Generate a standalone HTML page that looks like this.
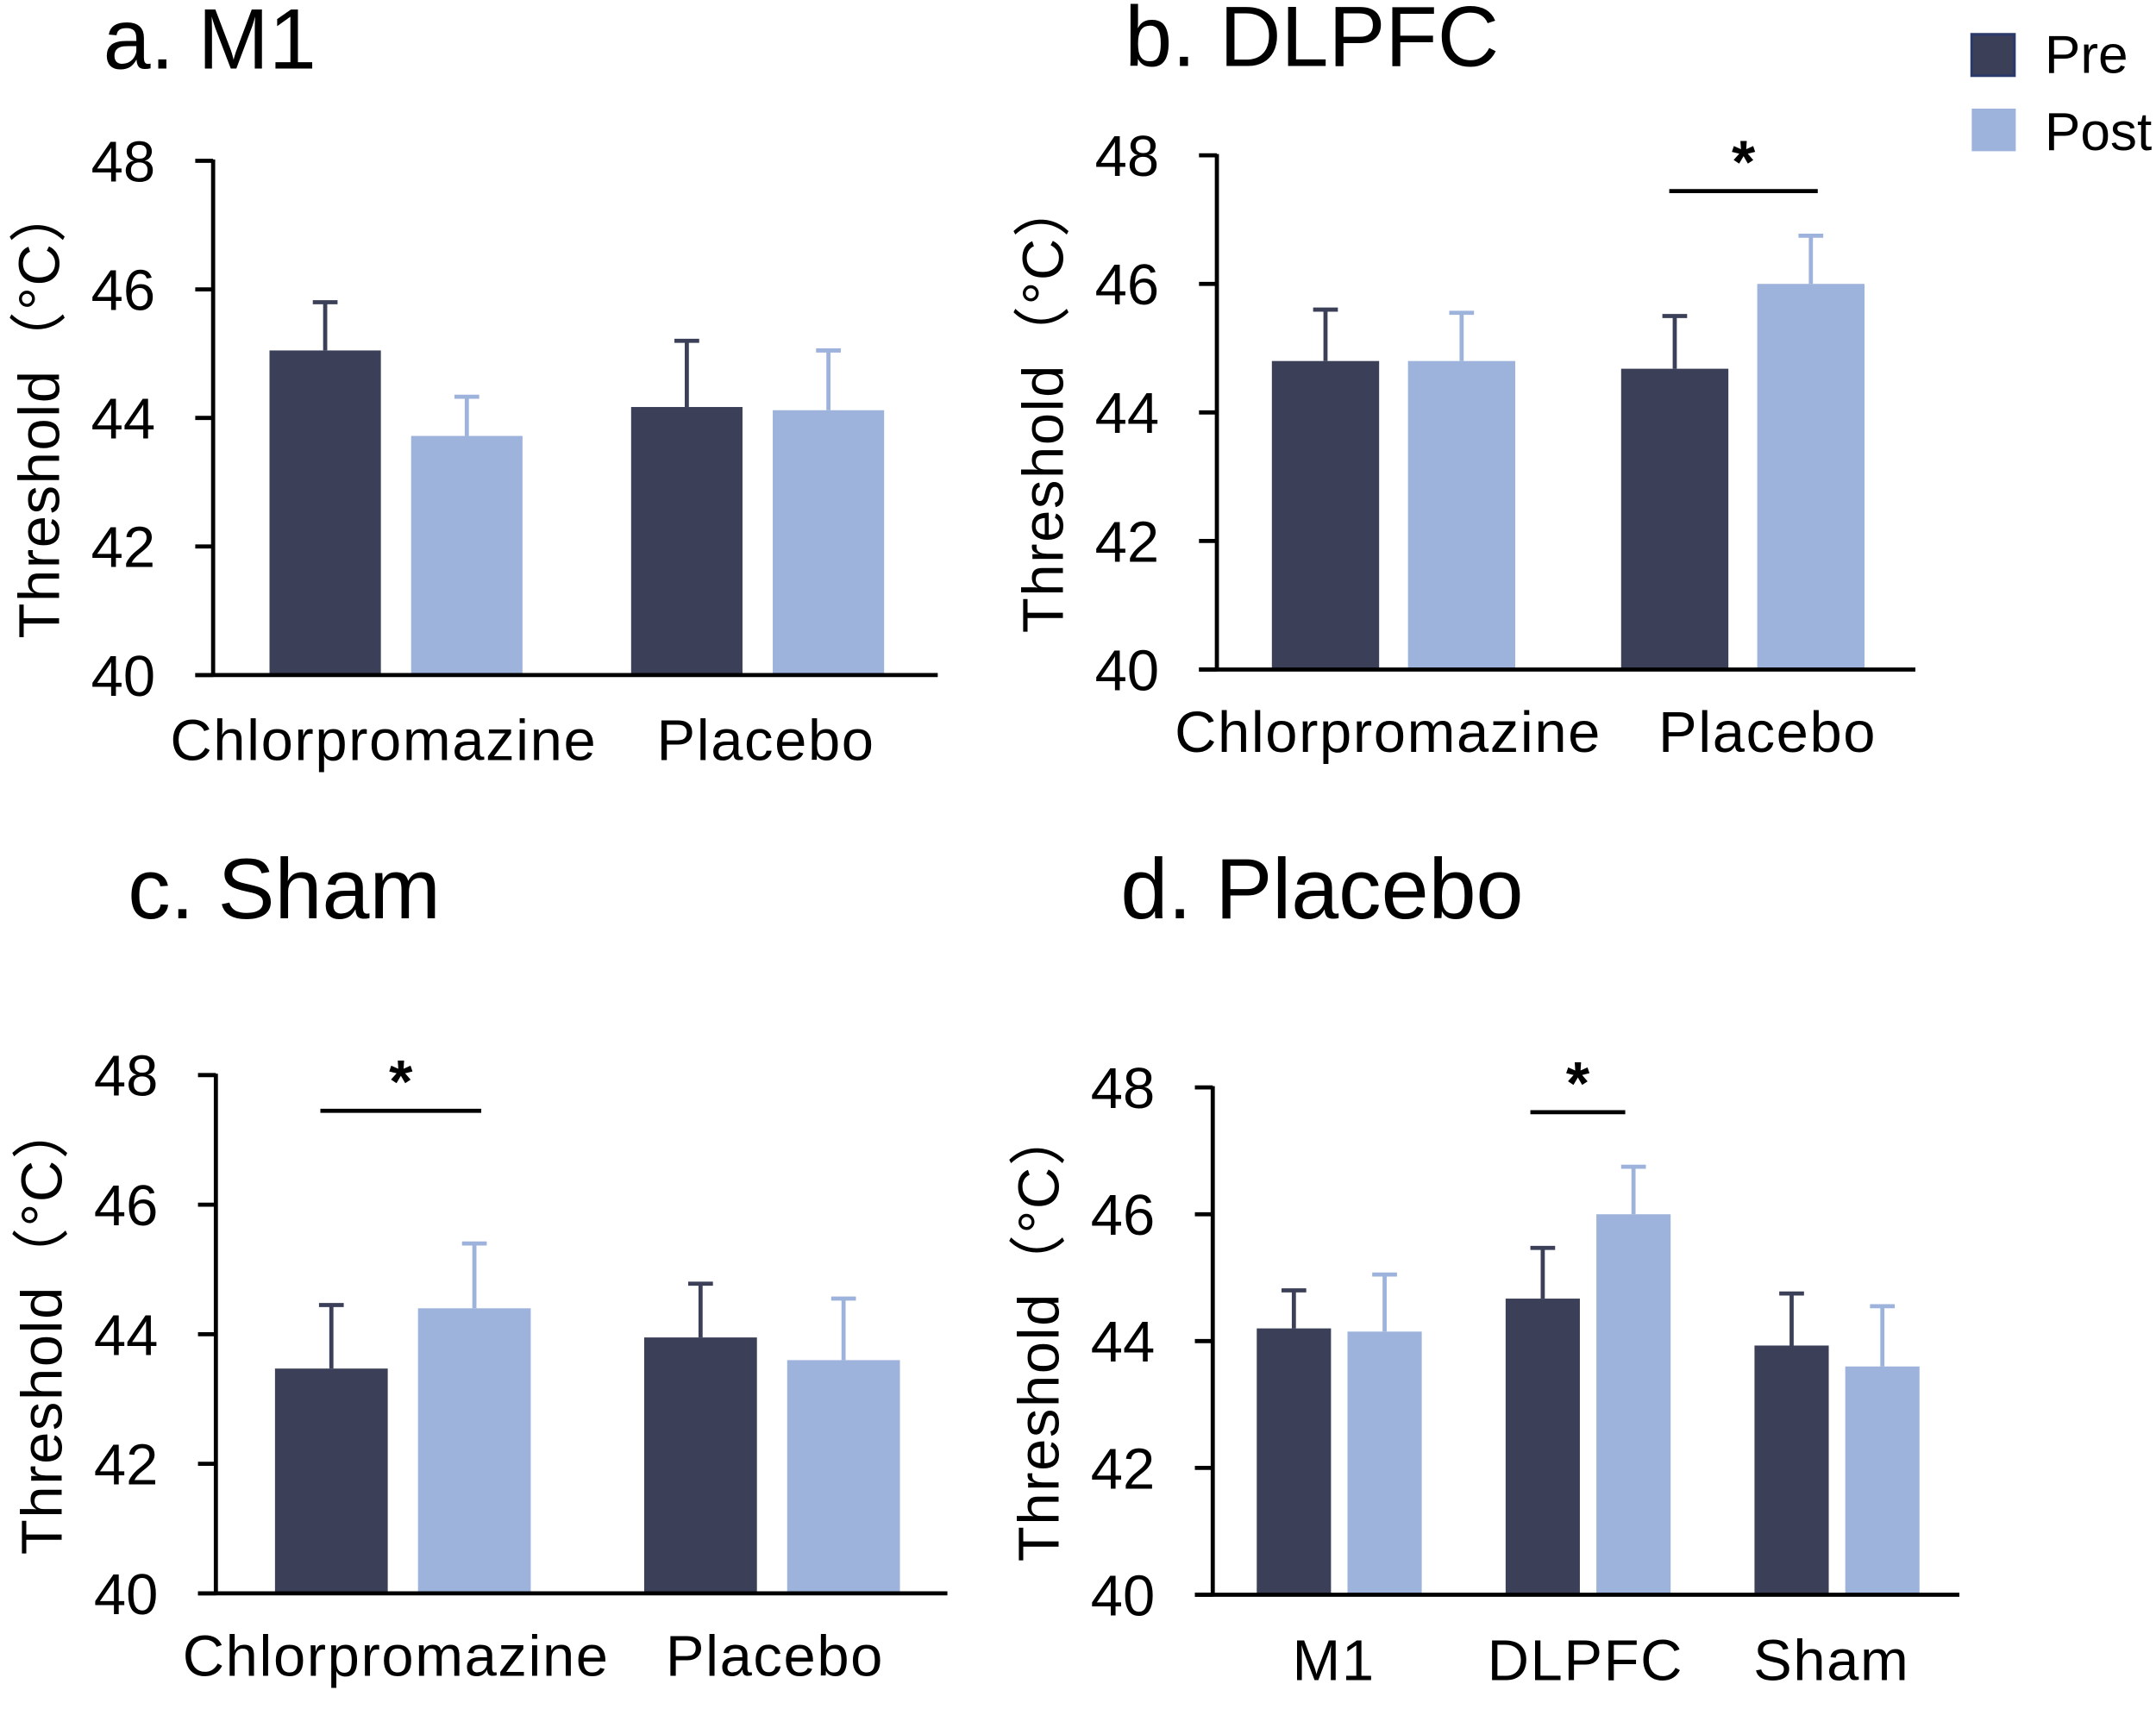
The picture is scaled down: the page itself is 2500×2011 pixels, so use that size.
<!DOCTYPE html>
<html><head><meta charset="utf-8"><style>
html,body{margin:0;padding:0;background:#fff;}
svg{display:block;}
text{font-family:"Liberation Sans","Noto Sans CJK SC",sans-serif;fill:#000;}
</style></head><body>
<svg id="fig" width="2500" height="2011" viewBox="0 0 1568 1261.3" xmlns="http://www.w3.org/2000/svg">
<g>
<rect x="1434" y="25" width="31" height="30" fill="#3b4058" stroke="#2b3a6a" stroke-width="2"/>
<text x="1487" y="53" font-size="39">Pre</text>
<rect x="1434" y="79" width="32" height="31" fill="#9db3dc"/>
<text x="1487" y="109" font-size="39">Post</text>
</g>
</svg>
<script>
// Panel a: M1
const aCategories = ["Chlorpromazine", "Placebo"];
const aPre = [45.05, 44.17];
const aPreErr = [0.75, 1.03];
const aPost = [43.72, 44.12];
const aPostErr = [0.61, 0.93];
// Panel b: DLPFC
const bCategories = ["Chlorpromazine", "Placebo"];
const bPre = [44.8, 44.68];
const bPreErr = [0.8, 0.82];
const bPost = [44.8, 46.0];
const bPostErr = [0.75, 0.75];
// Panel c: Sham
const cCategories = ["Chlorpromazine", "Placebo"];
const cPre = [43.47, 43.95];
const cPreErr = [0.98, 0.83];
const cPost = [44.4, 43.6];
const cPostErr = [1.0, 0.95];
// Panel d: Placebo
const dCategories = ["M1", "DLPFC", "Sham"];
const dPre = [44.2, 44.67, 43.93];
const dPreErr = [0.6, 0.8, 0.82];
const dPost = [44.15, 46.0, 43.6];
const dPostErr = [0.9, 0.75, 0.95];
const yTicks = [40, 42, 44, 46, 48];

const NS = "http://www.w3.org/2000/svg";
const svg = document.getElementById("fig");
const PRE = "#3b4058", POST = "#9db3dc";
function mk(tag, attrs, parent, txt) {
  const e = document.createElementNS(NS, tag);
  for (const k in attrs) e.setAttribute(k, attrs[k]);
  if (txt !== undefined) e.textContent = txt;
  (parent || svg).appendChild(e);
  return e;
}
function panel(p) {
  const g = mk("g", {});
  
  
  const y = v => p.y0 + (p.y1 - p.y0) * (v - 40) / 8;
  const t = mk("text", {x: p.tx, y: p.ty, "font-size": 62}, g, p.title);
  
  
  const yt = mk("text", {x: 0, y: 0, "font-size": 42, "text-anchor": "middle", "letter-spacing": "1",
    transform: "translate(" + (p.ax - 112) + "," + ((p.y0 + p.y1) / 2 - 5) + ") rotate(-90)"}, g, "Threshold（°C）");
  
  
  yTicks.forEach(v => {
    const l = mk("line", {x1: p.ax - 13, x2: p.ax, y1: y(v), y2: y(v), stroke: "#000", "stroke-width": 3}, g);
    
    
    const lb = mk("text", {x: p.ax - 42, y: y(v) + 15, "font-size": 42, "text-anchor": "end"}, g, String(v));
    
    
  });
  p.cats.forEach((c, i) => {
    const cx = p.c0 + i * p.step;
    [[p.pre, p.preErr, PRE, -1, "pre"], [p.post, p.postErr, POST, 1, "post"]].forEach(s => {
      const v = s[0][i], e = s[1][i];
      const x = s[3] < 0 ? cx - p.gap / 2 - p.bw : cx + p.gap / 2;
      const ex = x + p.bw / 2;
      const el = mk("line", {x1: ex, x2: ex, y1: y(v), y2: y(v + e), stroke: s[2], "stroke-width": 3}, g);
      
      
      const cap = mk("line", {x1: ex - 9, x2: ex + 9, y1: y(v + e), y2: y(v + e), stroke: s[2], "stroke-width": 3}, g);
      
      
      const r = mk("rect", {x: x, y: y(v), width: p.bw, height: y(40) - y(v), fill: s[2]}, g);
      
      
    });
    const cl = mk("text", {x: cx + (p.lshift ? p.lshift[i] : 0), y: p.ly, "font-size": 42, "text-anchor": "middle", "letter-spacing": "1"}, g, c);
    
    
  });
  const ya = mk("line", {x1: p.ax, x2: p.ax, y1: y(48) - 1, y2: y(40), stroke: "#000", "stroke-width": 3}, g);
  
  
  const xa = mk("line", {x1: p.ax - 13, x2: p.xe, y1: y(40), y2: y(40), stroke: "#000", "stroke-width": 3}, g);
  
  
  if (p.sig) {
    const sl = mk("line", {x1: p.sig[0], x2: p.sig[1], y1: p.sig[2], y2: p.sig[2], stroke: "#000", "stroke-width": 3}, g);
    
    
    const st = mk("text", {x: (p.sig[0] + p.sig[1]) / 2, y: p.sig[2] - 6, "font-size": 44, "font-weight": "bold", "text-anchor": "middle"}, g, "*");
    
    
  }
}
panel({id: "a", title: "a. M1", tx: 75, ty: 50, ax: 155, y0: 491, y1: 117, xe: 682,
  cats: aCategories, pre: aPre, preErr: aPreErr, post: aPost, postErr: aPostErr,
  c0: 288, step: 263, bw: 81, gap: 22, ly: 553, lshift: [-9, 6]});
panel({id: "b", title: "b. DLPFC", tx: 818, ty: 48, ax: 885, y0: 487, y1: 113, xe: 1393,
  cats: bCategories, pre: bPre, preErr: bPreErr, post: bPost, postErr: bPostErr,
  c0: 1013.5, step: 254, bw: 78, gap: 21, ly: 547, lshift: [-4, 18], sig: [1214, 1322, 139]});
panel({id: "c", title: "c. Sham", tx: 93, ty: 668, ax: 157, y0: 1159, y1: 782, xe: 689,
  cats: cCategories, pre: cPre, preErr: cPreErr, post: cPost, postErr: cPostErr,
  c0: 293, step: 268.5, bw: 82, gap: 22, ly: 1219, sig: [233, 350, 808], lshift: [-5, 2]});
panel({id: "d", title: "d. Placebo", tx: 815, ty: 668, ax: 882, y0: 1160, y1: 791, xe: 1425,
  cats: dCategories, pre: dPre, preErr: dPreErr, post: dPost, postErr: dPostErr,
  c0: 974, step: 181, bw: 54, gap: 12, ly: 1222, sig: [1113, 1182, 809], lshift: [-4, -2, -4]});
</script>
</body></html>
